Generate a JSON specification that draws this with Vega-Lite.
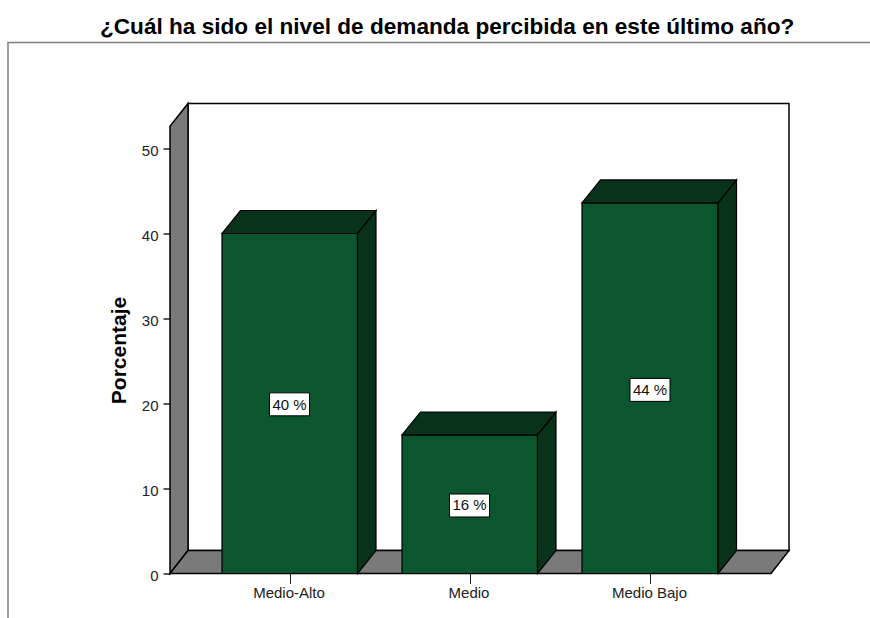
{
"$schema":"https://vega.github.io/schema/vega-lite/v6.json",
"width":619,"height":470,
"autosize":{"type":"none"},
"padding":{"left":170,"top":103.5,"right":81,"bottom":44.5},
"background":"white",
"view":{"stroke":null},
"title":{"text":"¿Cuál ha sido el nivel de demanda percibida en este último año?","anchor":"start","frame":"group","dx":-70,"dy":25,"offset":8,"baseline":"alphabetic","font":"Liberation Sans","fontSize":22.6,"fontWeight":"bold","color":"#000000"},
"datasets":{
"frame":[{"pos":-162,"val":-5.3,"seq":1},{"pos":-162,"val":62.47,"seq":2},{"pos":700,"val":62.47,"seq":3}],
"walls":[
{"face":"back","part":"wall","pos":18,"low":2.7,"high":55.3},
{"face":"back","part":"wall","pos":619,"low":2.7,"high":55.3},
{"face":"left","part":"side","pos":0,"low":0,"high":52.6},
{"face":"left","part":"side","pos":18,"low":2.7,"high":55.3},
{"face":"floor","part":"side","pos":0,"low":0,"high":0},
{"face":"floor","part":"side","pos":18,"low":0,"high":2.7},
{"face":"floor","part":"side","pos":601,"low":0,"high":2.7},
{"face":"floor","part":"side","pos":619,"low":2.7,"high":2.7}
],
"bars":[
{"face":"a-front","part":"front","pos":52,"low":0,"high":40},
{"face":"a-front","part":"front","pos":187.5,"low":0,"high":40},
{"face":"a-side","part":"shade","pos":187.5,"low":0,"high":40},
{"face":"a-side","part":"shade","pos":206,"low":2.7,"high":42.7},
{"face":"a-top","part":"shade","pos":52,"low":40,"high":40},
{"face":"a-top","part":"shade","pos":70.5,"low":40,"high":42.7},
{"face":"a-top","part":"shade","pos":187.5,"low":40,"high":42.7},
{"face":"a-top","part":"shade","pos":206,"low":42.7,"high":42.7},
{"face":"b-front","part":"front","pos":232,"low":0,"high":16.3},
{"face":"b-front","part":"front","pos":367.5,"low":0,"high":16.3},
{"face":"b-side","part":"shade","pos":367.5,"low":0,"high":16.3},
{"face":"b-side","part":"shade","pos":386,"low":2.7,"high":19},
{"face":"b-top","part":"shade","pos":232,"low":16.3,"high":16.3},
{"face":"b-top","part":"shade","pos":250.5,"low":16.3,"high":19},
{"face":"b-top","part":"shade","pos":367.5,"low":16.3,"high":19},
{"face":"b-top","part":"shade","pos":386,"low":19,"high":19},
{"face":"c-front","part":"front","pos":412,"low":0,"high":43.6},
{"face":"c-front","part":"front","pos":548,"low":0,"high":43.6},
{"face":"c-side","part":"shade","pos":548,"low":0,"high":43.6},
{"face":"c-side","part":"shade","pos":566.5,"low":2.7,"high":46.3},
{"face":"c-top","part":"shade","pos":412,"low":43.6,"high":43.6},
{"face":"c-top","part":"shade","pos":430.5,"low":43.6,"high":46.3},
{"face":"c-top","part":"shade","pos":548,"low":43.6,"high":46.3},
{"face":"c-top","part":"shade","pos":566.5,"low":46.3,"high":46.3}
],
"labels":[
{"label":"40 %","left":99.5,"right":139.5,"mid":119.5,"val":19.85,"low":18.55,"high":21.25},
{"label":"16 %","left":279.5,"right":319.5,"mid":299.5,"val":8,"low":6.65,"high":9.35},
{"label":"44 %","left":460,"right":500,"mid":480,"val":21.6,"low":20.25,"high":22.95}
]
},
"encoding":{
"x":{"field":"pos","type":"quantitative","scale":{"domain":[0,619],"nice":false,"zero":false},
"axis":{"title":null,"grid":false,"domain":false,"values":[119.5,299.5,480],"labelExpr":"datum.value<200?'Medio-Alto':datum.value<400?'Medio':'Medio Bajo'","tickColor":"#222222","tickSize":10,"tickWidth":1,"labelFont":"Liberation Sans","labelFontSize":15,"labelColor":"#222222","labelPadding":2,"labelOffset":-1}},
"y":{"field":"low","type":"quantitative","stack":false,"scale":{"domain":[0,55.29],"nice":false,"zero":false},
"axis":{"title":"Porcentaje","grid":false,"domain":false,"values":[0,10,20,30,40,50],"tickColor":"#222222","tickSize":7,"tickWidth":1.5,"labelFont":"Liberation Sans","labelFontSize":15,"labelColor":"#222222","labelPadding":5,"labelOffset":2,"titleFont":"Liberation Sans","titleFontSize":21,"titleFontWeight":"bold","titleColor":"#000000","titlePadding":12,"titleY":246.5}}
},
"layer":[
{"data":{"name":"frame"},"mark":{"type":"line","color":"#808080","strokeWidth":1.5},
"encoding":{"y":{"field":"val","type":"quantitative"},"order":{"field":"seq","type":"quantitative"}}},
{"data":{"name":"walls"},"mark":{"type":"area","stroke":"#000000","strokeWidth":1.5},
"encoding":{"y2":{"field":"high"},"detail":{"field":"face"},"color":{"field":"part","type":"nominal","legend":null,"scale":{"domain":["wall","side"],"range":["#ffffff","#7a7a7a"]}}}},
{"data":{"name":"bars"},"mark":{"type":"area","stroke":"#000000","strokeWidth":1.2},
"encoding":{"y2":{"field":"high"},"detail":{"field":"face"},"color":{"field":"part","type":"nominal","legend":null,"scale":{"domain":["front","shade"],"range":["#0b562f","#08321a"]}}}},
{"data":{"name":"labels"},"mark":{"type":"rect","fill":"#ffffff","stroke":"#000000","strokeWidth":1},
"encoding":{"x":{"field":"left","type":"quantitative"},"x2":{"field":"right"},"y":{"field":"low","type":"quantitative"},"y2":{"field":"high"}}},
{"data":{"name":"labels"},"mark":{"type":"text","font":"Liberation Sans","fontSize":15,"color":"#111111","align":"center","baseline":"middle"},
"encoding":{"x":{"field":"mid","type":"quantitative"},"y":{"field":"val","type":"quantitative"},"text":{"field":"label"}}}
],
"resolve":{"scale":{"color":"independent"}}
}
